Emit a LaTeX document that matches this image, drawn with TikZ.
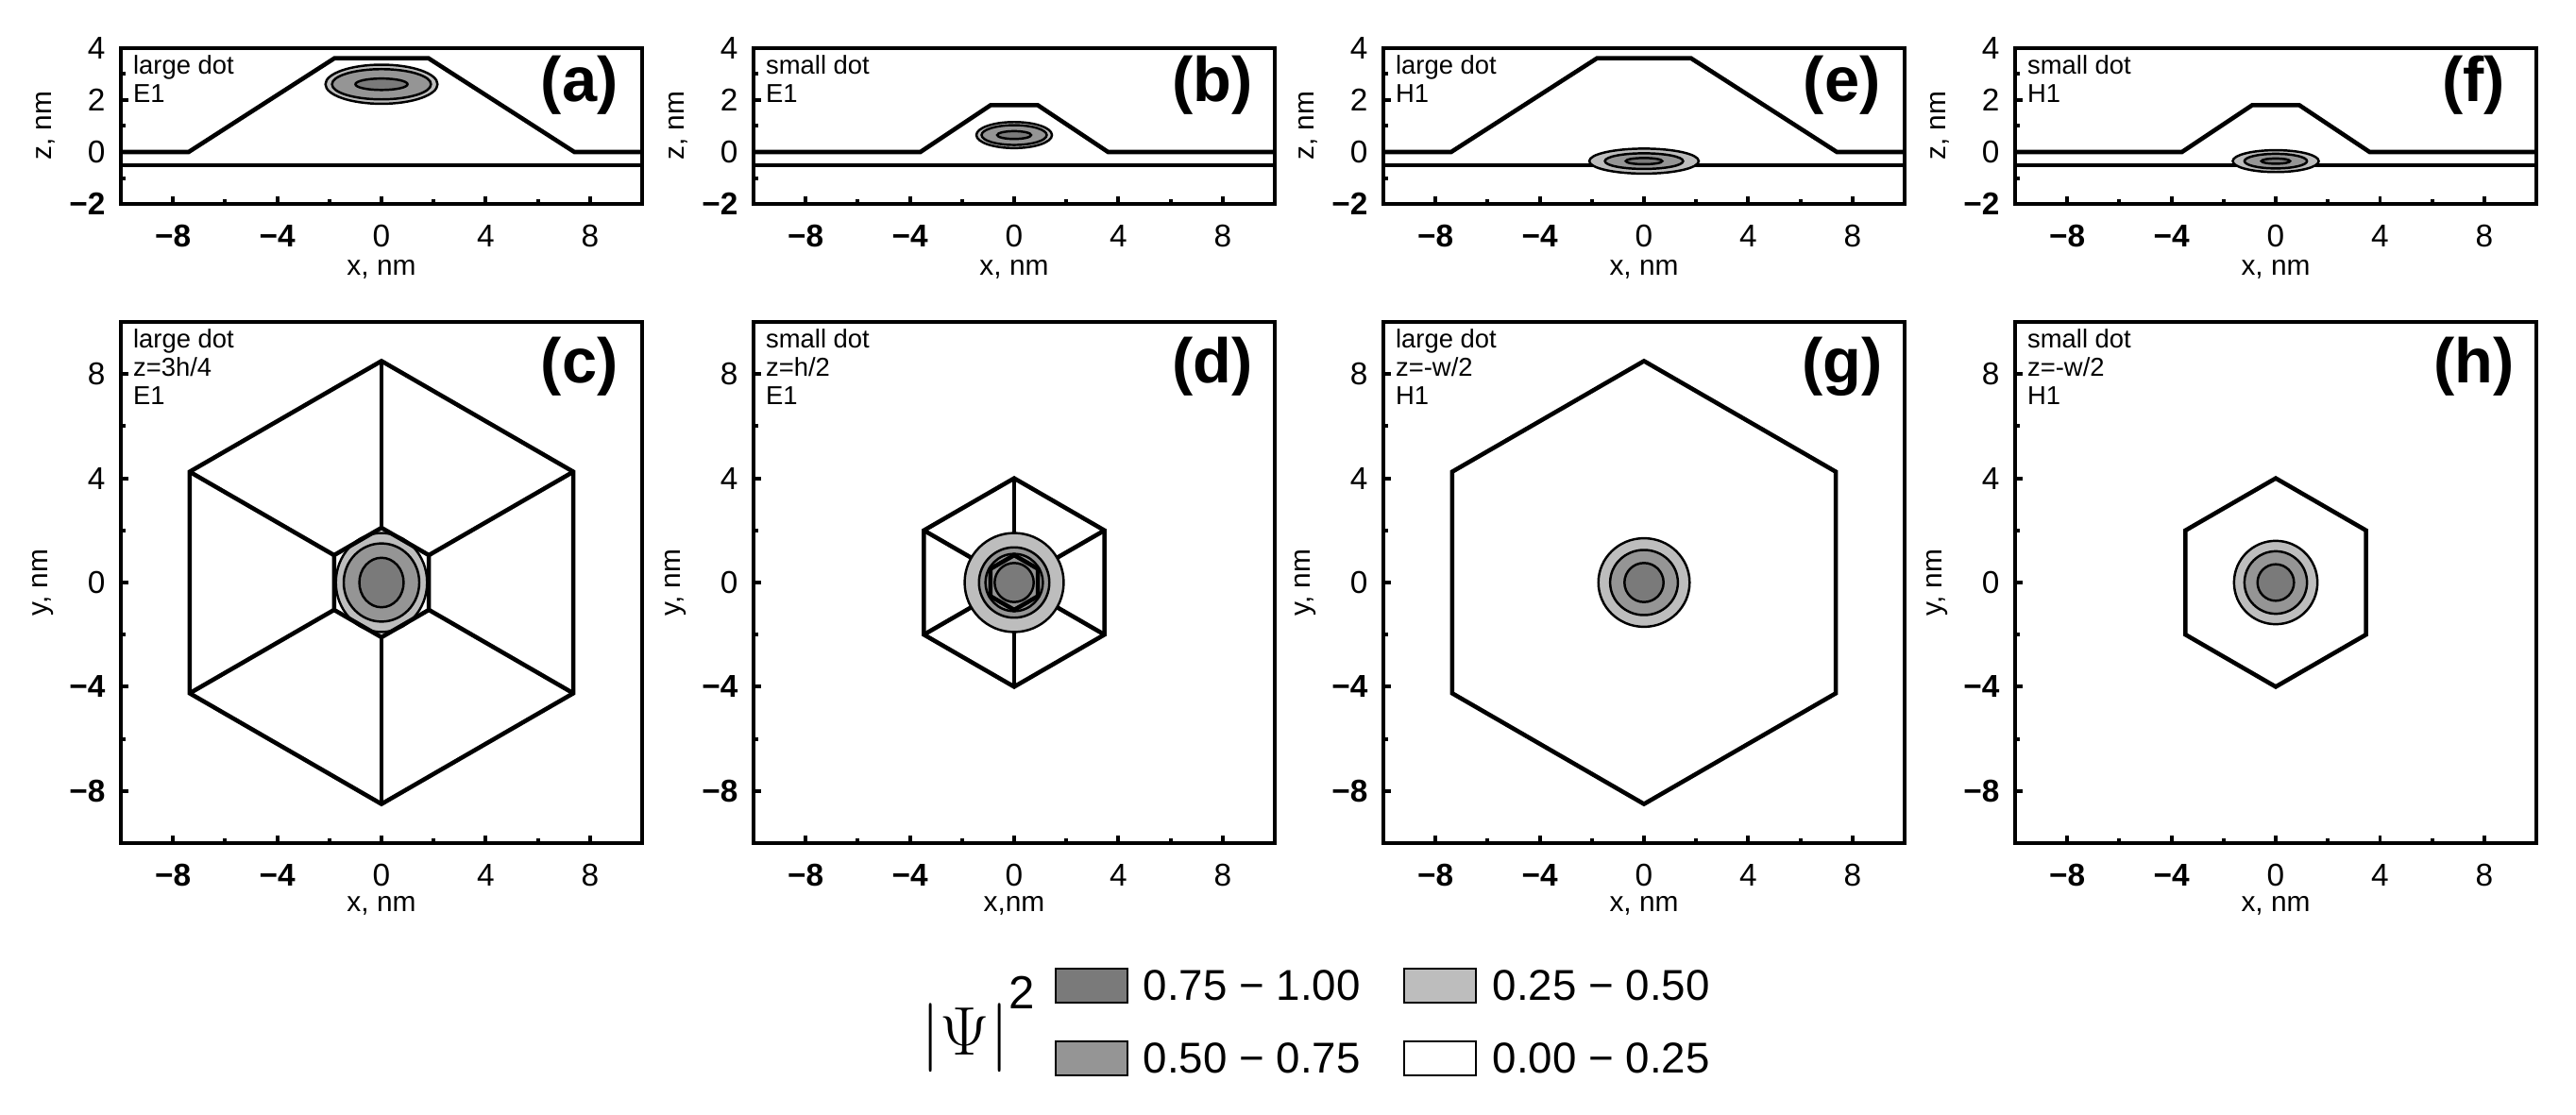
\documentclass[tikz,border=0pt]{standalone}
\usepackage{fontspec}
\setmainfont{Liberation Sans}
\definecolor{cdark}{HTML}{7A7A7A}
\definecolor{cmid}{HTML}{959595}
\definecolor{clight}{HTML}{BDBDBD}
\tikzset{
 frm/.style={line width=1.1pt},
 geo/.style={line width=1.3pt},
 cont/.style={line width=0.7pt},
 tk/.style={font=\fontsize{9.5}{10}\selectfont},
 ann/.style={font=\fontsize{7.8}{8.6}\selectfont, anchor=north west, inner sep=0pt, align=left},
 plab/.style={font=\fontsize{19}{20}\selectfont\bfseries, inner sep=0pt},
 alab/.style={font=\fontsize{8.5}{9}\selectfont},
 lbox/.style={draw, line width=0.8pt, minimum width=0.76cm, minimum height=0.36cm, inner sep=0pt},
 ltxt/.style={font=\fontsize{13}{14}\selectfont, anchor=west, inner sep=0pt}
}
\newcommand\xticks[2]{% #1 prefix, #2 y of axis
 \foreach \x in {-8,-4,0,4,8} \draw[frm] (\x,#2)--(\x,#2+0.3);
 \foreach \x in {-10,-6,-2,2,6,10} \draw[frm] (\x,#2)--(\x,#2+0.18);
 \foreach \x/\t in {-8/\textbf{−8},-4/\textbf{−4},0/0,4/4,8/8}
   \node[tk,anchor=north] (#1xt\x) at (\x,#2-0.35) {\t};
}
\newcommand\toppanel[5]{% prefix, label, line1, line2
 \draw[frm] (-10,-2) rectangle (10,4);
 \xticks{#1}{-2}
 \foreach \z in {0,2,4} \draw[frm] (-10,\z)--(-9.7,\z);
 \foreach \z in {-1,1,3} \draw[frm] (-10,\z)--(-9.82,\z);
 \foreach \z/\t in {-2/\textbf{−2},0/0,2/2,4/4}
   \node[tk,anchor=east] (#1zt\z) at (-10.15,\z) {\t};
 \node[alab,rotate=90] (#1zl) at (-12.9,1) {z, nm};
 \node[alab] (#1xl) at (0,-4.5) {x, nm};
 \node[ann] (#1an) at (-9.55,3.75) {#3\\#4};
 \node[plab] (#1pl) at (7.6,2.55) {(#2)};
 #5
}
\newcommand\botpanel[6]{% prefix,label,l1,l2,l3,xlabel
 \draw[frm] (-10,-10) rectangle (10,10);
 \xticks{#1}{-10}
 \foreach \y in {-8,-4,0,4,8} \draw[frm] (-10,\y)--(-9.7,\y);
 \foreach \y in {-6,-2,2,6} \draw[frm] (-10,\y)--(-9.82,\y);
 \foreach \y/\t in {-8/\textbf{−8},-4/\textbf{−4},0/0,4/4,8/8}
   \node[tk,anchor=east] (#1yt\y) at (-10.15,\y) {\t};
 \node[alab,rotate=90] (#1yl) at (-13,0) {y, nm};
 \node[alab] (#1xl) at (0,-12.4) {#6};
 \node[ann] (#1an) at (-9.55,9.75) {#3\\#4\\#5};
 \node[plab] (#1pl) at (7.6,8.3) {(#2)};
}
\newcommand\blob[7]{%
 \filldraw[cont,fill=clight] (#1,#2) ellipse [x radius=#3, y radius=#4];
 \filldraw[cont,fill=cmid] (#1,#2) ellipse [x radius=#5, y radius=#6];
 \filldraw[cont,fill=cdark] (#1,#2) ellipse [#7];
}
\newcommand\hexa[1]{(90:#1)--(150:#1)--(210:#1)--(270:#1)--(330:#1)--(30:#1)--cycle}
\begin{document}
\begin{tikzpicture}
\fill[white] (0,0) rectangle (27.28,11.8);
\useasboundingbox (0,0) rectangle (27.28,11.8);
% ---------- top row ----------
\begin{scope}[shift={(4.04,10.19)},scale=0.276]
 \toppanel{a}{a}{large dot}{E1}{
 \draw[geo] (-10,0)--(-7.4,0)--(-1.8,3.6)--(1.8,3.6)--(7.4,0)--(10,0);
 \draw[geo] (-10,-0.5)--(10,-0.5);
 \blob{0}{2.6}{2.15}{0.75}{1.9}{0.58}{x radius=1.0, y radius=0.22}}
\end{scope}
\begin{scope}[shift={(10.74,10.19)},scale=0.276]
 \toppanel{b}{b}{small dot}{E1}{
 \draw[geo] (-10,0)--(-3.6,0)--(-0.9,1.8)--(0.9,1.8)--(3.6,0)--(10,0);
 \draw[geo] (-10,-0.5)--(10,-0.5);
 \blob{0}{0.65}{1.45}{0.5}{1.25}{0.38}{x radius=0.65, y radius=0.15}}
\end{scope}
\begin{scope}[shift={(17.41,10.19)},scale=0.276]
 \toppanel{e}{e}{large dot}{H1}{
 \draw[geo] (-10,0)--(-7.4,0)--(-1.8,3.6)--(1.8,3.6)--(7.4,0)--(10,0);
 \draw[geo] (-10,-0.5)--(10,-0.5);
 \blob{0}{-0.35}{2.1}{0.48}{1.5}{0.3}{x radius=0.7, y radius=0.12}}
\end{scope}
\begin{scope}[shift={(24.1,10.19)},scale=0.276]
 \toppanel{f}{f}{small dot}{H1}{
 \draw[geo] (-10,0)--(-3.6,0)--(-0.9,1.8)--(0.9,1.8)--(3.6,0)--(10,0);
 \draw[geo] (-10,-0.5)--(10,-0.5);
 \blob{0}{-0.35}{1.65}{0.42}{1.2}{0.28}{x radius=0.55, y radius=0.1}}
\end{scope}
% ---------- bottom row ----------
\begin{scope}[shift={(4.04,5.63)},scale=0.276]
 \botpanel{c}{c}{large dot}{z=3h/4}{E1}{x, nm}
 \draw[geo] \hexa{8.5};
 \foreach \a in {30,90,...,330} \draw[geo] (\a:2.1)--(\a:8.5);
 \filldraw[cont,fill=clight] (0,0) ellipse [x radius=1.75, y radius=1.9];
 \draw[geo] \hexa{2.1};
 \filldraw[cont,fill=cmid] (0,0) ellipse [x radius=1.45, y radius=1.5];
 \filldraw[cont,fill=cdark] (0,0) ellipse [x radius=0.85, y radius=0.95];
\end{scope}
\begin{scope}[shift={(10.74,5.63)},scale=0.276]
 \botpanel{d}{d}{small dot}{z=h/2}{E1}{x,nm}
 \draw[geo] \hexa{4};
 \foreach \a in {30,90,...,330} \draw[geo] (\a:1.05)--(\a:4);
 \filldraw[cont,fill=clight] (0,0) circle [radius=1.9];
 \filldraw[cont,fill=cmid] (0,0) circle [radius=1.35];
 \draw[cont] (0,0) circle [radius=1.1];
 \filldraw[cont,fill=cdark] (0,0) circle [radius=0.75];
 \draw[geo] \hexa{1.05};
\end{scope}
\begin{scope}[shift={(17.41,5.63)},scale=0.276]
 \botpanel{g}{g}{large dot}{z=-w/2}{H1}{x, nm}
 \draw[geo] \hexa{8.5};
 \filldraw[cont,fill=clight] (0,0) ellipse [x radius=1.75, y radius=1.7];
 \filldraw[cont,fill=cmid] (0,0) ellipse [x radius=1.3, y radius=1.25];
 \filldraw[cont,fill=cdark] (0,0) ellipse [x radius=0.75, y radius=0.75];
\end{scope}
\begin{scope}[shift={(24.1,5.63)},scale=0.276]
 \botpanel{h}{h}{small dot}{z=-w/2}{H1}{x, nm}
 \draw[geo] \hexa{4};
 \filldraw[cont,fill=clight] (0,0) circle [radius=1.6];
 \filldraw[cont,fill=cmid] (0,0) circle [radius=1.2];
 \filldraw[cont,fill=cdark] (0,0) circle [radius=0.7];
\end{scope}
% ---------- legend ----------
\node[font=\fontsize{22}{24}\selectfont, inner sep=0pt, anchor=west] (psi) at (9.75,0.95)
  {$|\Psi|$\raisebox{14pt}{\fontsize{14}{16}\selectfont 2}};
\node[lbox,fill=cdark] (b1) at (11.56,1.36) {};
\node[ltxt] (t1) at (12.1,1.36) {0.75 − 1.00};
\node[lbox,fill=cmid] (b2) at (11.56,0.59) {};
\node[ltxt] (t2) at (12.1,0.59) {0.50 − 0.75};
\node[lbox,fill=clight] (b3) at (15.25,1.36) {};
\node[ltxt] (t3) at (15.8,1.36) {0.25 − 0.50};
\node[lbox,fill=white] (b4) at (15.25,0.59) {};
\node[ltxt] (t4) at (15.8,0.59) {0.00 − 0.25};
\end{tikzpicture}
\end{document}
